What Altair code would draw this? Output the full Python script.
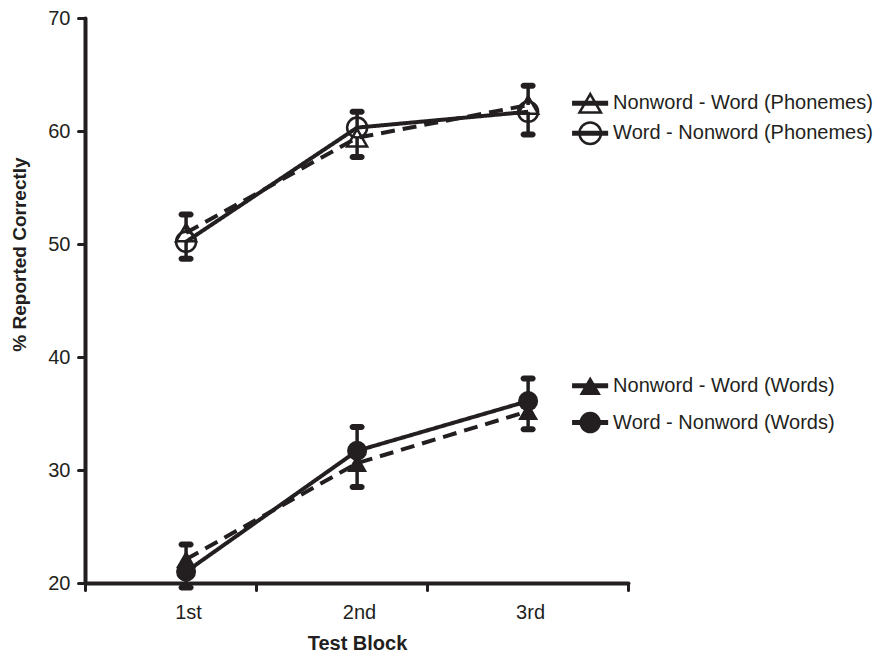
import altair as alt
import pandas as pd

# ---------------- data ----------------
blocks = [1, 2, 3]
block_labels = ["1st", "2nd", "3rd"]
series_names = [
    "Nonword - Word (Phonemes)",
    "Word - Nonword (Phonemes)",
    "Nonword - Word (Words)",
    "Word - Nonword (Words)",
]
nw_w_phonemes = [51.0, 59.4, 62.3]
w_nw_phonemes = [50.2, 60.3, 61.7]
nw_w_words = [22.1, 30.6, 35.2]
w_nw_words = [21.0, 31.7, 36.1]
# end points of the (one-sided) error bars
nw_w_phonemes_err = [52.6, 57.7, 64.0]
w_nw_phonemes_err = [48.7, 61.7, 59.7]
nw_w_words_err = [23.4, 28.5, 33.6]
w_nw_words_err = [19.6, 33.8, 38.1]
filled_flags = [False, False, True, True]

y_ticks = [20, 30, 40, 50, 60, 70]
x_tick_positions = [0.409, 1.409, 2.409, 3.584]

# legend layout (in data units)
legend_y = [62.45, 59.8, 37.45, 34.2]
legend_line_x = [3.257, 3.468]
legend_marker_x = 3.363
legend_text_x = 3.497

INK = "#231f20"
FONT = "Liberation Sans"

values = [nw_w_phonemes, w_nw_phonemes, nw_w_words, w_nw_words]
errs = [nw_w_phonemes_err, w_nw_phonemes_err, nw_w_words_err, w_nw_words_err]
rows = []
for name, vals, ee, filled in zip(series_names, values, errs, filled_flags):
    for b, v, e in zip(blocks, vals, ee):
        rows.append({"series": name, "block": b, "value": v, "err": e, "filled": filled})
df = pd.DataFrame(rows)

leg = pd.DataFrame({
    "series": series_names,
    "y": legend_y,
    "x0": [legend_line_x[0]] * 4,
    "x1": [legend_line_x[1]] * 4,
    "xm": [legend_marker_x] * 4,
    "xt": [legend_text_x] * 4,
    "filled": filled_flags,
})

x_scale = alt.Scale(domain=[x_tick_positions[0], x_tick_positions[-1]], nice=False, zero=False)
y_scale = alt.Scale(domain=[20, 70], nice=False, zero=False)
shape_scale = alt.Scale(domain=series_names,
                        range=["triangle-up", "circle", "triangle-up", "circle"])
dash_scale = alt.Scale(domain=series_names, range=[[14, 8], [1, 0], [14, 8], [1, 0]])

x_axis = alt.Axis(
    values=x_tick_positions,
    labelExpr="datum.value < 1 ? '1st' : datum.value < 2 ? '2nd' : datum.value < 3 ? '3rd' : ''",
    labelOffset=103, labelOverlap=False, labelFlush=False, labelBound=False,
    tickSize=7, tickWidth=3, tickColor=INK, tickCap="round",
    domainWidth=4, domainColor=INK, domainCap="round",
    labelFont=FONT, labelFontSize=20, labelColor=INK, labelPadding=12,
    grid=False,
    title="Test Block", titleFont=FONT, titleFontSize=20, titleFontWeight="bold",
    titleColor=INK, titleX=272, titleY=70, titleBaseline="bottom",
)
y_axis = alt.Axis(
    values=y_ticks,
    tickSize=7, tickWidth=3, tickColor=INK, tickCap="round",
    domainWidth=4, domainColor=INK, domainCap="round",
    labelFont=FONT, labelFontSize=20, labelColor=INK, labelPadding=8,
    grid=False,
    title="% Reported Correctly", titleFont=FONT, titleFontSize=19, titleFontWeight="bold",
    titleColor=INK, titleX=-66, titleY=236, titleBaseline="middle",
)

X = alt.X("block:Q", scale=x_scale, axis=x_axis)
Y = alt.Y("value:Q", scale=y_scale, axis=y_axis)

base = alt.Chart(df)

err_rules = base.mark_rule(color=INK, strokeWidth=3.5).encode(
    x=alt.X("block:Q", scale=x_scale), y=alt.Y("value:Q", scale=y_scale), y2="err:Q")
err_caps = base.mark_tick(color=INK, orient="horizontal", size=15, thickness=6,
                          cornerRadius=3, opacity=1).encode(
    x=alt.X("block:Q", scale=x_scale), y=alt.Y("err:Q", scale=y_scale))

lines = base.mark_line(color=INK, strokeWidth=4).encode(
    x=X, y=Y, detail="series:N",
    strokeDash=alt.StrokeDash("series:N", scale=dash_scale, legend=None))

open_pts = base.transform_filter("!datum.filled").mark_point(
    filled=False, color=INK, strokeWidth=2.5, size=400, opacity=1).encode(
    x=alt.X("block:Q", scale=x_scale), y=alt.Y("value:Q", scale=y_scale),
    shape=alt.Shape("series:N", scale=shape_scale, legend=None))
filled_pts = base.transform_filter("datum.filled").mark_point(
    filled=True, color=INK, size=400, opacity=1).encode(
    x=alt.X("block:Q", scale=x_scale), y=alt.Y("value:Q", scale=y_scale),
    shape=alt.Shape("series:N", scale=shape_scale, legend=None))

lbase = alt.Chart(leg)
leg_lines = lbase.mark_rule(color=INK, strokeWidth=5).encode(
    x=alt.X("x0:Q", scale=x_scale), x2="x1:Q", y=alt.Y("y:Q", scale=y_scale))
leg_open = lbase.transform_filter("!datum.filled").mark_point(
    filled=False, color=INK, strokeWidth=2.5, size=460, opacity=1).encode(
    x=alt.X("xm:Q", scale=x_scale), y=alt.Y("y:Q", scale=y_scale),
    shape=alt.Shape("series:N", scale=shape_scale, legend=None))
leg_filled = lbase.transform_filter("datum.filled").mark_point(
    filled=True, color=INK, size=460, opacity=1).encode(
    x=alt.X("xm:Q", scale=x_scale), y=alt.Y("y:Q", scale=y_scale),
    shape=alt.Shape("series:N", scale=shape_scale, legend=None))
leg_text = lbase.mark_text(align="left", baseline="middle", font=FONT, fontSize=20,
                           color=INK).encode(
    x=alt.X("xt:Q", scale=x_scale), y=alt.Y("y:Q", scale=y_scale), text="series:N")

chart = alt.layer(
    lines, err_rules, err_caps, open_pts, filled_pts,
    leg_lines, leg_open, leg_filled, leg_text,
).properties(
    width=543, height=565,
    autosize=alt.AutoSizeParams(type="none"),
    padding={"left": 77, "top": 10, "right": 252, "bottom": 70},
    background="white",
).configure_view(stroke=None)

chart.save("out.html", embed_options={"renderer": "svg", "actions": False})
